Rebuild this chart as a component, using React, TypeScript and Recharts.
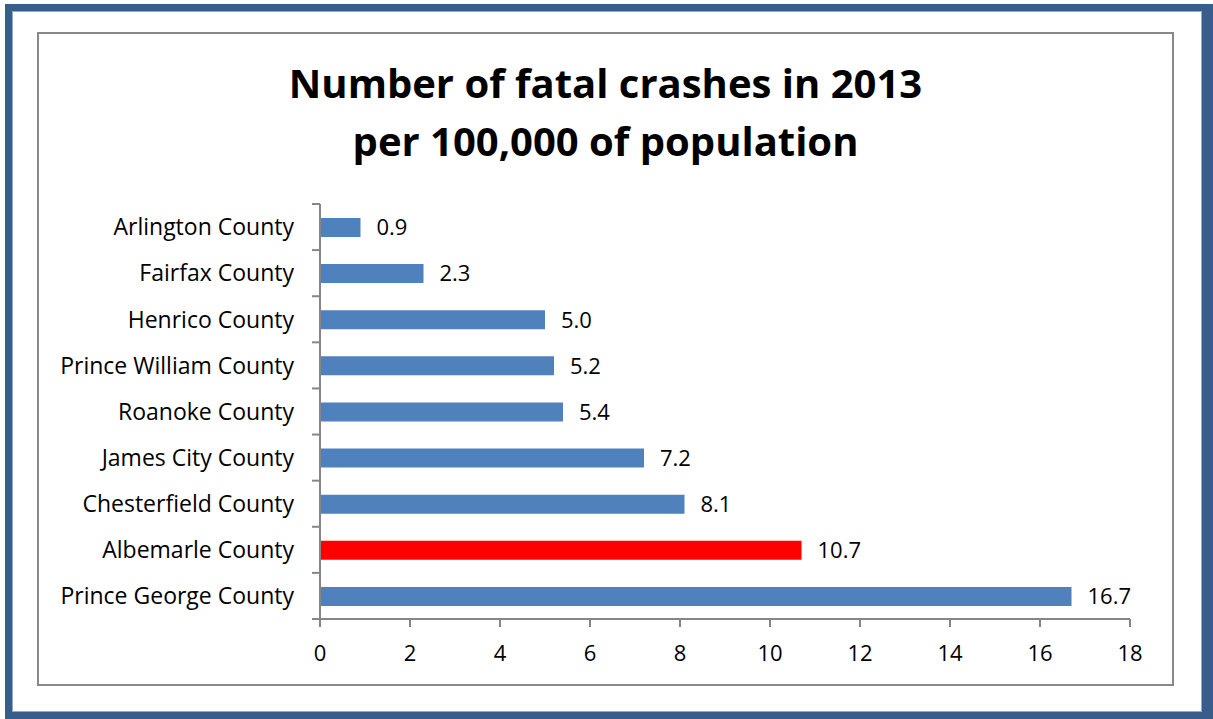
import React from "react";
import { BarChart, Bar, XAxis, YAxis, Cell, LabelList } from "recharts";

const counties = [
  "Arlington County",
  "Fairfax County",
  "Henrico County",
  "Prince William County",
  "Roanoke County",
  "James City County",
  "Chesterfield County",
  "Albemarle County",
  "Prince George County",
];
const crashRates = [0.9, 2.3, 5.0, 5.2, 5.4, 7.2, 8.1, 10.7, 16.7];
const xTicks = [0, 2, 4, 6, 8, 10, 12, 14, 16, 18];
const highlighted = "Albemarle County";
const titleLines = ["Number of fatal crashes in 2013", "per 100,000 of population"];

const data = counties.map((c, i) => ({ county: c, rate: crashRates[i] }));

const FONT = "'Open Sans', 'Liberation Sans', sans-serif";
const AXIS = "#868686";
const BLUE = "#4F81BD";
const RED = "#FF0000";
const TICK_MARGIN = 26;
const TICK_LEN = 8;

const CategoryTick = (props: any) => {
  const { x, y, payload, index, visibleTicksCount, height } = props;
  const count = visibleTicksCount || counties.length;
  const band = (Number(height) || 415) / count;
  const axisX = x + TICK_MARGIN;
  return (
    <g>
      <text
        x={x}
        y={y}
        dy="0.36em"
        textAnchor="end"
        fill="#000"
        fontSize={23}
        fontFamily={FONT}
      >
        {payload.value}
      </text>
      <line x1={axisX - TICK_LEN} x2={axisX} y1={y - band / 2} y2={y - band / 2} stroke={AXIS} strokeWidth={2} />
      {index === count - 1 && (
        <line x1={axisX - TICK_LEN} x2={axisX} y1={y + band / 2} y2={y + band / 2} stroke={AXIS} strokeWidth={2} />
      )}
    </g>
  );
};

export default function App() {
  return (
    <div style={{ position: "absolute", left: 0, top: 0, width: 1213, height: 719, background: "#fff", overflow: "hidden", fontFamily: FONT }}>
      <div
        style={{
          position: "absolute",
          left: 5,
          top: 4,
          width: 1208,
          height: 715,
          boxSizing: "border-box",
          borderStyle: "solid",
          borderColor: "#385D8A",
          borderWidth: "7px 11px 7px 7px",
          boxShadow: "inset 0 0 0 1px #8FAAD0",
        }}
      />
      <div
        style={{
          position: "absolute",
          left: 37,
          top: 32,
          width: 1137,
          height: 654,
          boxSizing: "border-box",
          border: "2px solid #898989",
        }}
      />
      {titleLines.map((t, i) => (
        <div
          key={i}
          style={{
            position: "absolute",
            left: 37,
            width: 1137,
            top: 58 + i * 58,
            textAlign: "center",
            fontSize: 40,
            fontWeight: 700,
            lineHeight: "50px",
            color: "#000",
            fontFamily: FONT,
          }}
        >
          {t}
        </div>
      ))}
      <div style={{ position: "absolute", left: 0, top: 0 }}>
        <BarChart
          width={1213}
          height={719}
          data={data}
          layout="vertical"
          margin={{ top: 204, right: 83, bottom: 60, left: 40 }}
        >
          <XAxis
            type="number"
            domain={[0, 18]}
            ticks={xTicks}
            interval={0}
            tickSize={TICK_LEN}
            tickMargin={18}
            height={40}
            axisLine={{ stroke: AXIS, strokeWidth: 2 }}
            tickLine={{ stroke: AXIS, strokeWidth: 2 }}
            tick={{ fill: "#000", fontSize: 22, fontFamily: FONT }}
          />
          <YAxis
            type="category"
            dataKey="county"
            width={280}
            interval={0}
            axisLine={{ stroke: AXIS, strokeWidth: 2 }}
            tickLine={false}
            tickSize={0}
            tickMargin={TICK_MARGIN}
            tick={<CategoryTick />}
          />
          <Bar dataKey="rate" barSize={19} isAnimationActive={false}>
            {data.map((d, i) => (
              <Cell key={i} fill={d.county === highlighted ? RED : BLUE} />
            ))}
            <LabelList
              dataKey="rate"
              position="right"
              offset={16}
              formatter={(v: number) => v.toFixed(1)}
              style={{ fill: "#000", fontSize: 22, fontFamily: FONT }}
            />
          </Bar>
        </BarChart>
      </div>
    </div>
  );
}
